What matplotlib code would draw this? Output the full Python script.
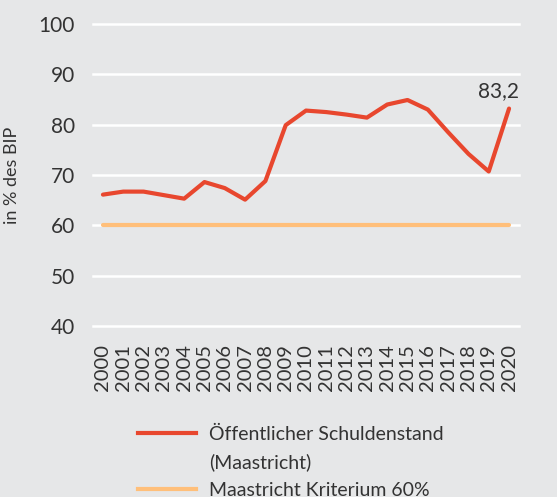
import numpy as np
import matplotlib.pyplot as plt
from matplotlib.lines import Line2D

jahre = list(range(2000, 2021))
schuldenstand = [66.1, 66.7, 66.7, 66.0, 65.3, 68.6, 67.4, 65.1, 68.8, 79.9,
                 82.8, 82.5, 82.0, 81.4, 84.0, 84.9, 83.0, 78.5, 74.2, 70.7, 83.2]
kriterium = [60] * len(jahre)
y_ticks = [40, 50, 60, 70, 80, 90, 100]

bg = '#e6e7e8'
rot = '#e8472e'
orange = '#ffbf7a'

plt.rcParams['font.family'] = ['Lato', 'DejaVu Sans']

fig = plt.figure(figsize=(5.57, 4.97), dpi=100, facecolor=bg)
ax = fig.add_axes([93 / 557, 1 - 326 / 497, 426 / 557, 302 / 497], facecolor=bg)

ax.plot(jahre, schuldenstand, color=rot, lw=3, solid_capstyle='round', zorder=3)
ax.plot(jahre, kriterium, color=orange, lw=3, solid_capstyle='round', zorder=2)

ax.set_xlim(1999.51, 2020.49)
ax.set_ylim(40, 100)
ax.set_yticks(y_ticks)
ax.set_xticks(jahre)
ax.set_xticklabels([str(j) for j in jahre], rotation=90, fontsize=14.5, color='#333333')
ax.tick_params(axis='y', labelsize=15, colors='#333333', length=0, pad=13)
ax.tick_params(axis='x', length=0, pad=13)
ax.grid(axis='y', color='white', lw=1.8)
ax.set_axisbelow(True)
for s in ax.spines.values():
    s.set_visible(False)
for gl in ax.get_ygridlines():
    gl.set_clip_on(False)

ax.set_ylabel('in % des BIP', fontsize=13, color='#333333')
ax.yaxis.set_label_coords((20 - 93) / 426, 0.5)

ax.annotate('83,2', (jahre[-1], schuldenstand[-1]), xytext=(7, 8),
            textcoords='offset points', ha='right', va='baseline',
            fontsize=15, color='#333333')

handles = [Line2D([], [], color=rot, lw=3),
           Line2D([], [], color='none'),
           Line2D([], [], color=orange, lw=3)]
labels = ['Öffentlicher Schuldenstand', '(Maastricht)', 'Maastricht Kriterium 60%']
fig.legend(handles, labels, loc='upper left', bbox_to_anchor=(120 / 557, 1 - 408 / 497),
           frameon=False, fontsize=14, handlelength=3.0, handletextpad=0.7,
           labelspacing=0.55, labelcolor='#333333')

fig.savefig('out.png', dpi=100, facecolor=bg)
